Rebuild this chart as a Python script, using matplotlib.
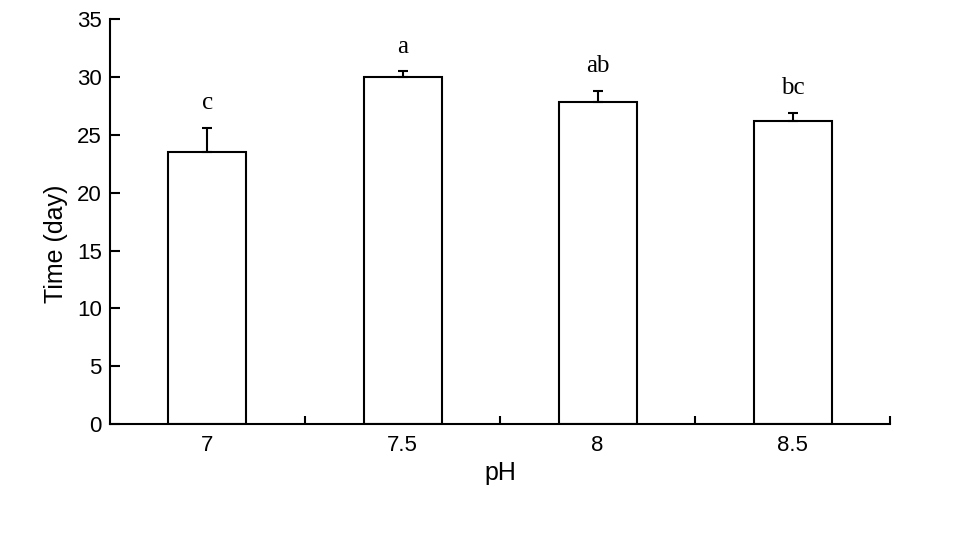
import matplotlib
matplotlib.use("Agg")
import matplotlib.pyplot as plt
import numpy as np

# data
ph_levels = ["7", "7.5", "8", "8.5"]
time_days = [23.5, 30.0, 27.8, 26.2]
time_err = [2.1, 0.5, 1.0, 0.7]
groups = ["c", "a", "ab", "bc"]

plt.rcParams["font.family"] = ["Liberation Sans", "DejaVu Sans"]

fig = plt.figure(figsize=(9.76, 5.34), dpi=100)
ax = fig.add_axes([0.1127, 0.2055, 0.7992, 0.759])

x = np.arange(len(ph_levels))
ax.bar(x, time_days, width=0.4, color="white", edgecolor="black", linewidth=1.5,
       yerr=[np.zeros(len(time_err)), time_err], capsize=3.5,
       error_kw=dict(elinewidth=1.5, capthick=1.5, ecolor="black"))

# significance letters above each error bar
for xi, v, e, g in zip(x, time_days, time_err, groups):
    ax.text(xi, v + e + 2.1, g, ha="center", va="center",
            fontsize=18, family="Liberation Serif")

ax.set_xlim(-0.5, len(ph_levels) - 0.5)
ax.set_ylim(0, 35)
ax.set_yticks(np.arange(0, 36, 5))
ax.set_xticks(x)
ax.set_xticklabels(ph_levels)
ax.set_xticks(np.arange(0.5, len(ph_levels), 1), minor=True)

ax.spines["top"].set_visible(False)
ax.spines["right"].set_visible(False)
ax.spines["left"].set_linewidth(1.5)
ax.spines["bottom"].set_linewidth(1.5)

ax.tick_params(axis="y", direction="in", length=7, width=1.5, labelsize=16, pad=6)
ax.tick_params(axis="x", which="major", length=0, labelsize=16, pad=8)
ax.tick_params(axis="x", which="minor", direction="in", length=6, width=1.5)

ax.set_ylabel("Time (day)", fontsize=18)
ax.yaxis.set_label_coords(-0.054, 0.445)
ax.set_xlabel("pH", fontsize=18, labelpad=3)

fig.savefig("out.png", dpi=100)
